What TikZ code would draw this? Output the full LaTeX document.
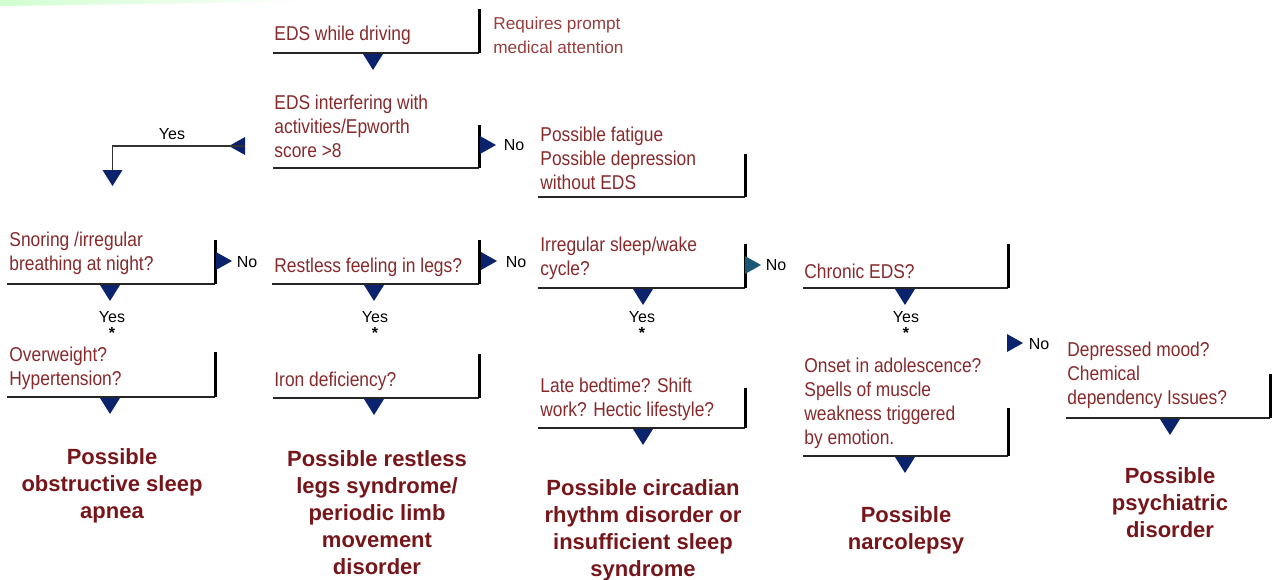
\documentclass[tikz,border=0pt]{standalone}
\usepackage{fontspec}
\setmainfont{Liberation Sans}
\newfontfamily\condfont{Liberation Sans}[FakeStretch=0.87]
\usetikzlibrary{positioning}
\definecolor{boxred}{RGB}{134,42,44}
\definecolor{darkred}{RGB}{118,22,26}
\definecolor{notered}{RGB}{150,62,62}
\definecolor{navy}{RGB}{10,35,108}
\definecolor{tealtri}{RGB}{26,88,116}

\begin{document}
\begin{tikzpicture}[
    x=0.5pt, y=-0.5pt,
    q/.style={anchor=west, inner sep=0pt, align=left, text=boxred, font=\condfont\fontsize{10}{12}\selectfont},
    note/.style={anchor=west, inner sep=0pt, align=left, text=notered, font=\fontsize{8.6}{12}\selectfont},
    dx/.style={inner sep=0pt, align=center, text=darkred, font=\bfseries\fontsize{11}{13.5}\selectfont},
    lbl/.style={inner sep=0pt, font=\fontsize{8}{9}\selectfont},
    yes/.style={inner sep=0pt, align=center, font=\fontsize{8}{8}\selectfont},
    hline/.style={line width=0.9pt, draw=black!85},
    vline/.style={line width=1.5pt},
    elbow/.style={line width=0.7pt, draw=black!80},
    pics/tdown/.style={code={\fill[navy] (-10,0) -- (10,0) -- (0,16) -- cycle;}},
    pics/tright/.style={code={\fill[#1] (0,-9) -- (0,9) -- (16,0) -- cycle;}},
    pics/tright/.default=navy,
    pics/tleft/.style={code={\fill[navy] (0,-9) -- (0,9) -- (-16,0) -- cycle;}}
]
  \useasboundingbox (0,0) rectangle (1273,579);
  \shade[left color=green!18!white, right color=white] (0,0) -- (320,0) -- (320,1.5) -- (0,6) -- cycle;

  % top of the chart
  \node[q] (drive) at (274,35) {EDS while driving};
  \node[note] (prompt) at (493,35) {Requires prompt\\medical attention};
  \draw[hline] (273,53) -- (479,53);
  \draw[vline] (479,9) -- (479,53);
  \pic (t1) at (373,54) {tdown};

  \node[q] (interf) at (274,126) {EDS interfering with\\activities/Epworth\\score >8};
  \draw[hline] (273,168) -- (479,168);
  \draw[vline] (479,125) -- (479,168);
  \pic (t2) at (480,145) {tright};
  \node[lbl] (no1) at (514,145) {No};
  \coordinate (yesstart) at (245,146);
  \coordinate (yesend) at (112.5,170);
  \pic (t3) at (yesstart) {tleft};
  \draw[elbow] (yesstart) -| (yesend);
  \pic (t4) at (yesend) {tdown};
  \node[lbl] (yes0) at (172,134) {Yes};

  \node[q] (fatigue) at (540,158) {Possible fatigue\\Possible depression\\without EDS};
  \draw[hline] (538,197) -- (745,197);
  \draw[vline] (745,154) -- (745,197);

  % sleep apnea
  \node[q] (snore) at (9,253) {Snoring /irregular\\breathing at night?};
  \draw[hline] (7,284) -- (215,284);
  \draw[vline] (215,240) -- (215,284);
  \pic (t5) at (216,261) {tright};
  \node[lbl] (no2) at (247,262) {No};
  \pic (t6) at (110,285) {tdown};
  \node[yes] (yes1) at (112,325) {Yes\\\textbf{*}};
  \node[q] (weight) at (9,368) {Overweight?\\Hypertension?};
  \draw[hline] (7,397) -- (215,397);
  \draw[vline] (215,352) -- (215,397);
  \pic (t7) at (110,398) {tdown};
  \node[dx] (osa) at (112,486) {Possible\\obstructive sleep\\apnea};

  % restless legs
  \node[q] (legs) at (274,267) {Restless feeling in legs?};
  \draw[hline] (272,284) -- (479,284);
  \draw[vline] (479,240) -- (479,284);
  \pic (t8) at (481,261) {tright};
  \node[lbl] (no3) at (516,262) {No};
  \pic (t9) at (374,285) {tdown};
  \node[yes] (yes2) at (375,325) {Yes\\\textbf{*}};
  \node[q] (iron) at (274,381) {Iron deficiency?};
  \draw[hline] (273,398) -- (479,398);
  \draw[vline] (479,354) -- (479,398);
  \pic (t10) at (374,399) {tdown};
  \node[dx] (rls) at (377,513) {Possible restless\\legs syndrome/\\periodic limb\\movement\\disorder};

  % circadian
  \node[q] (cycle) at (540,258) {Irregular sleep/wake\\cycle?};
  \draw[hline] (538,288) -- (745,288);
  \draw[vline] (745,244) -- (745,288);
  \pic (t11) at (745,265) {tright=tealtri};
  \node[lbl] (no4) at (776,265) {No};
  \pic (t12) at (643,289) {tdown};
  \node[yes] (yes3) at (642,325) {Yes\\\textbf{*}};
  \node[q] (bedtime) at (540,399) {Late bedtime? Shift\\work? Hectic lifestyle?};
  \draw[hline] (538,428) -- (745,428);
  \draw[vline] (745,388) -- (745,428);
  \pic (t13) at (643,429) {tdown};
  \node[dx] (circ) at (643,530) {Possible circadian\\rhythm disorder or\\insufficient sleep\\syndrome};

  % narcolepsy
  \node[q] (chronic) at (804,271) {Chronic EDS?};
  \draw[hline] (803,288) -- (1008,288);
  \draw[vline] (1008,244) -- (1008,288);
  \pic (t14) at (905,289) {tdown};
  \node[yes] (yes4) at (906,325) {Yes\\\textbf{*}};
  \node[q] (onset) at (804,403) {Onset in adolescence?\\Spells of muscle\\weakness triggered\\by emotion.};
  \draw[hline] (803,456) -- (1008,456);
  \draw[vline] (1008,408) -- (1008,456);
  \pic (t15) at (1007,343) {tright};
  \node[lbl] (no5) at (1039,344) {No};
  \pic (t16) at (905,457) {tdown};
  \node[dx] (narco) at (906,530) {Possible\\narcolepsy};

  % psychiatric
  \node[q] (mood) at (1067,375) {Depressed mood?\\Chemical\\dependency Issues?};
  \draw[hline] (1066,418) -- (1270,418);
  \draw[vline] (1270,374) -- (1270,418);
  \pic (t17) at (1170,419) {tdown};
  \node[dx] (psych) at (1170,503) {Possible\\psychiatric\\disorder};
\end{tikzpicture}
\end{document}
